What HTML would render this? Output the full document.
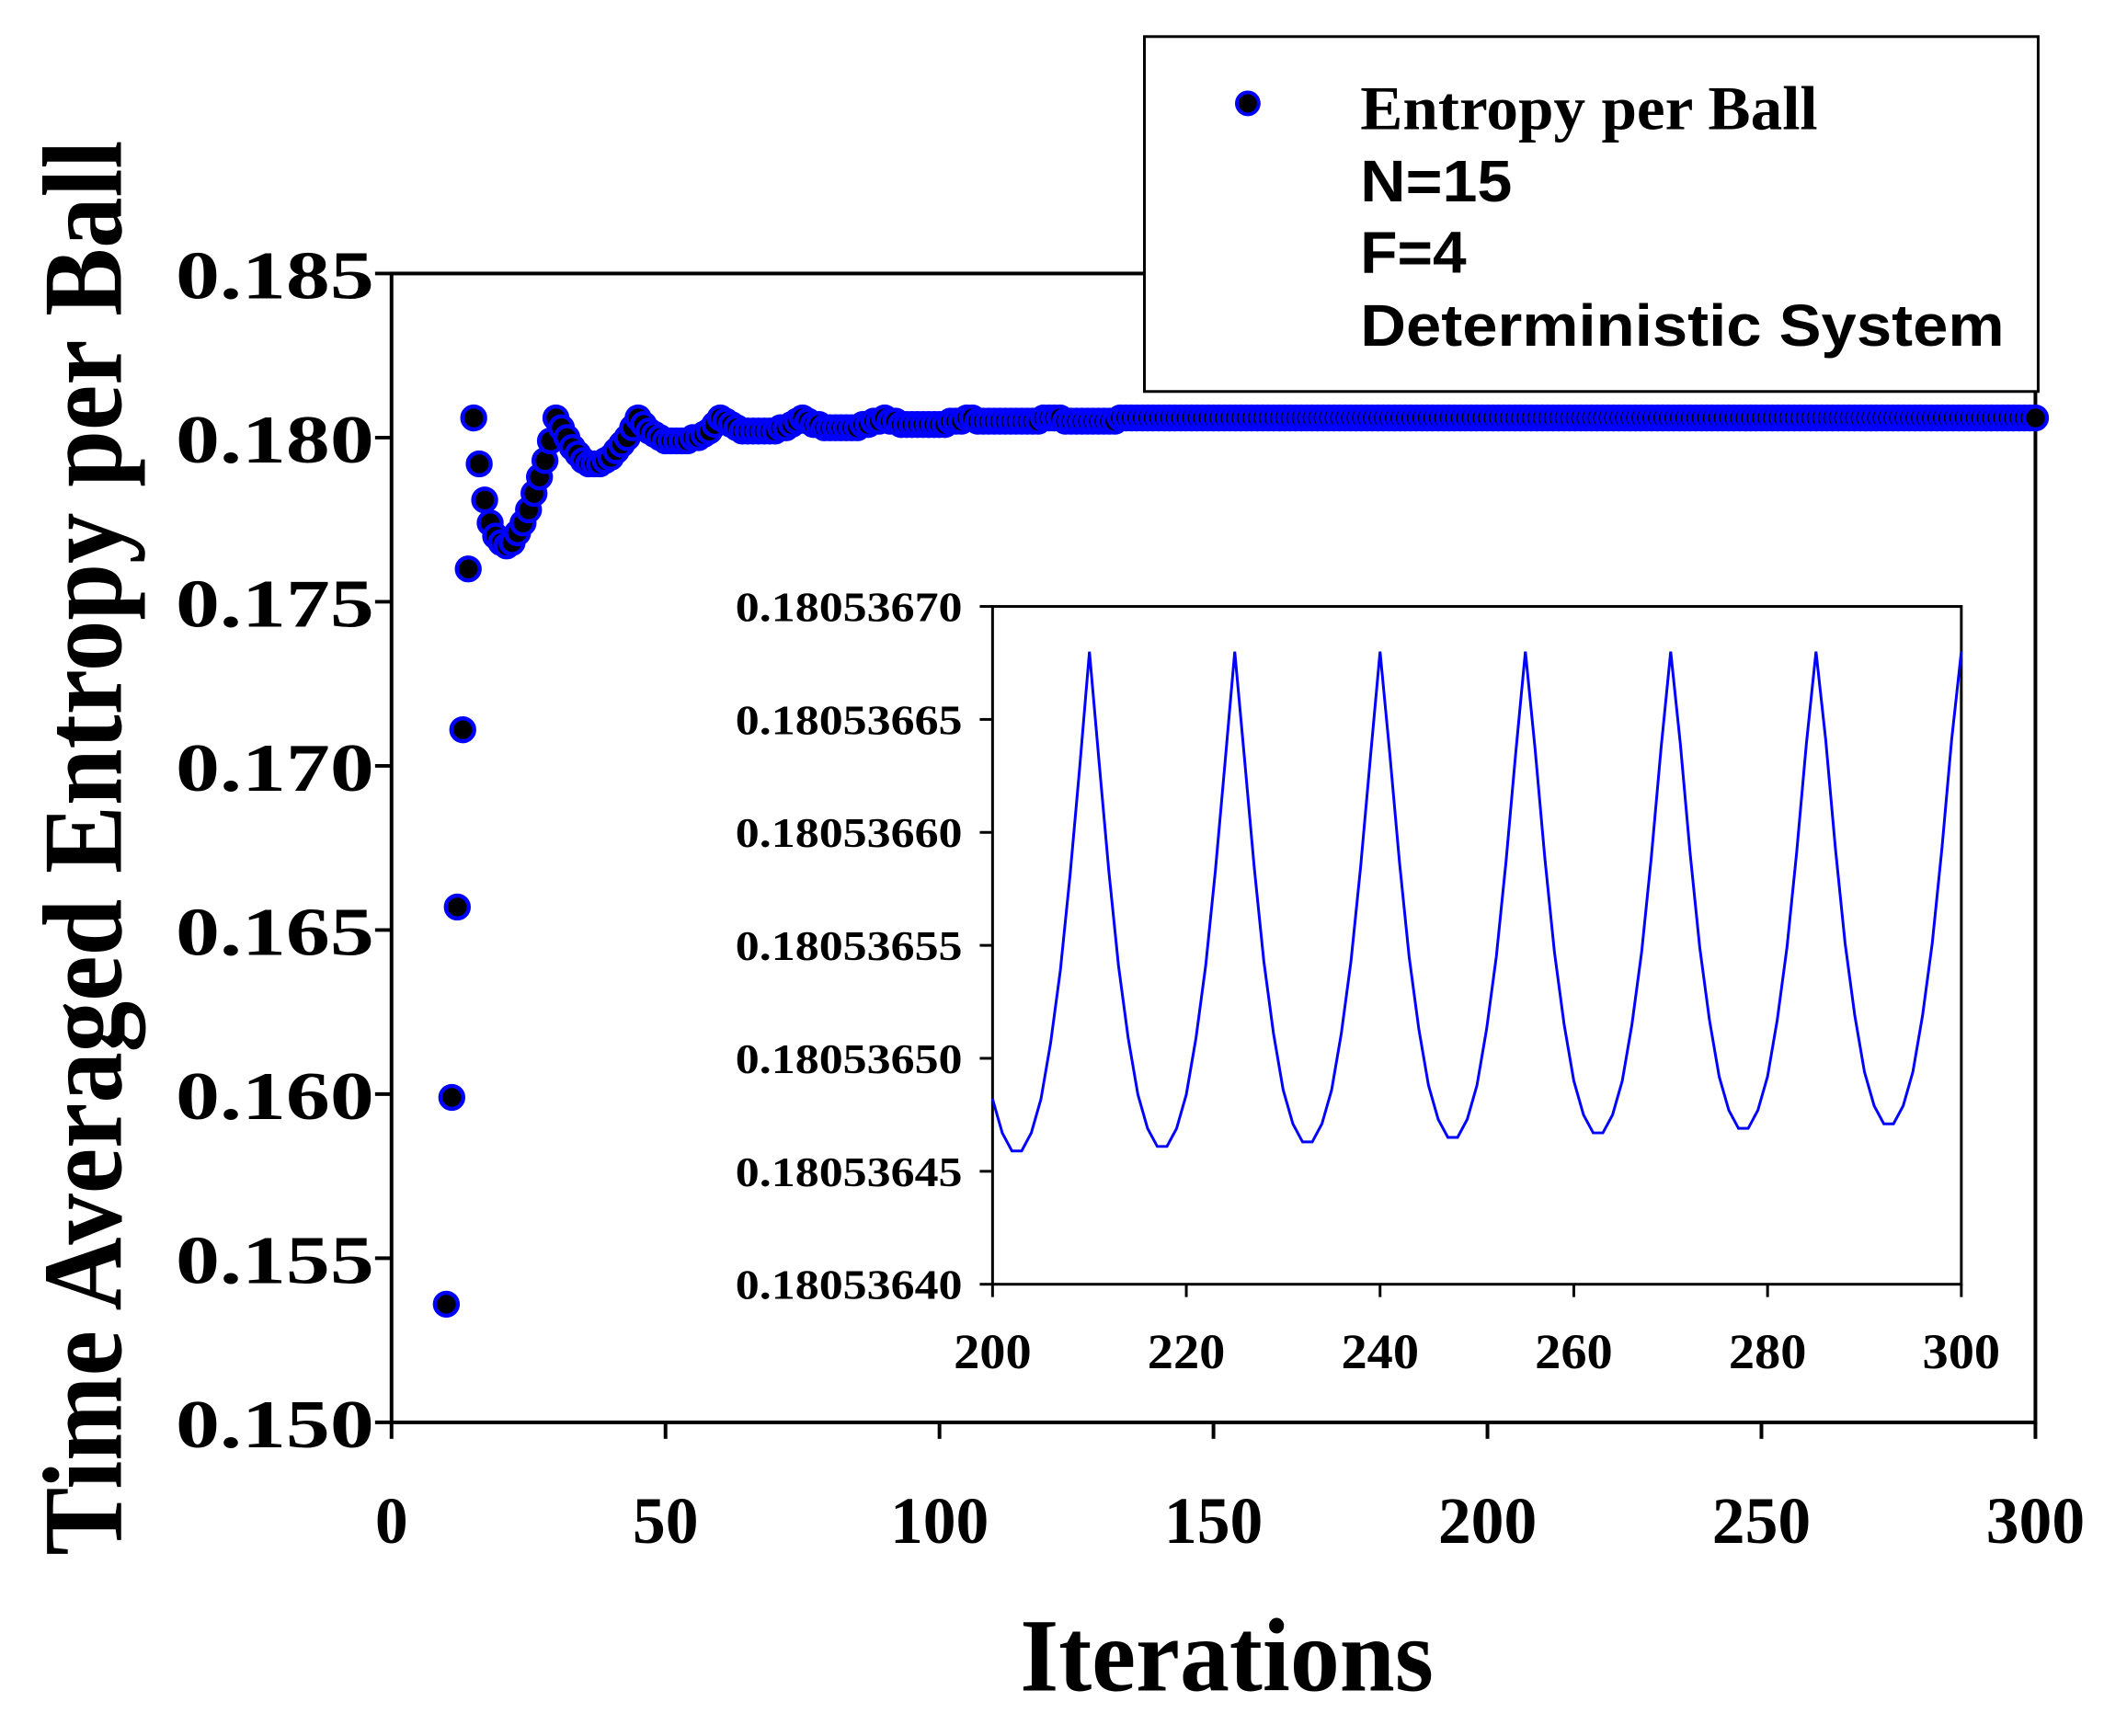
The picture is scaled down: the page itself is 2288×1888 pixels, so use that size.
<!DOCTYPE html>
<html><head><meta charset="utf-8"><style>
html,body{margin:0;padding:0;background:#fff;}
svg{display:block;}
</style></head><body>
<svg id="chart" width="2288" height="1888" viewBox="0 0 2288 1888" xmlns="http://www.w3.org/2000/svg">
<rect width="2288" height="1888" fill="#fff"/>
<g transform="scale(0.9948)">
<g id="main"></g>
<g id="inset"></g>
<g id="legend">
<rect x="1251" y="40" width="977" height="388" fill="#fff" stroke="#000" stroke-width="3"/>
<circle cx="1364" cy="113" r="12" fill="#000" stroke="#0000ff" stroke-width="4"/>
<text x="1487" y="141" font-family="Liberation Serif, serif" font-weight="bold" font-size="68" textLength="500" lengthAdjust="spacingAndGlyphs">Entropy per Ball</text>
<text x="1487" y="220" font-family="Liberation Sans, sans-serif" font-weight="bold" font-size="64" textLength="166" lengthAdjust="spacingAndGlyphs">N=15</text>
<text x="1487" y="298" font-family="Liberation Sans, sans-serif" font-weight="bold" font-size="64" textLength="116" lengthAdjust="spacingAndGlyphs">F=4</text>
<text x="1487" y="378" font-family="Liberation Sans, sans-serif" font-weight="bold" font-size="64" textLength="704" lengthAdjust="spacingAndGlyphs">Deterministic System</text>
</g>
<text x="1341" y="1848" text-anchor="middle" font-family="Liberation Serif, serif" font-weight="bold" font-size="114" textLength="452" lengthAdjust="spacingAndGlyphs">Iterations</text>
<text transform="translate(132,927) rotate(-90)" text-anchor="middle" font-family="Liberation Serif, serif" font-weight="bold" font-size="124" textLength="1547" lengthAdjust="spacingAndGlyphs">Time Averaged Entropy per Ball</text>
</g>
</svg>
<script>
// Main series (x = 10..300)
const mainStartX = 10;
const mainValues = [
0.1536,0.1599,0.1657,0.1711,0.1760,
0.1806,0.1792,0.1781,0.1774,0.1770,0.1768,0.1767,0.1768,0.1771,0.1774,0.1778,0.1783,0.1788,0.1793,0.1799,0.1806,
0.1803,0.1800,0.1797,0.1795,0.1793,0.1792,0.1792,0.1792,0.1793,0.1794,0.1796,0.1798,0.1800,0.1803,0.1806,
0.1804,0.1802,0.1801,0.1800,0.1799,0.1799,0.1799,0.1799,0.1799,0.1800,0.1800,0.1801,0.1802,0.1804,0.1806,
0.1805,0.1804,0.1803,0.1802,0.1802,0.1802,0.1802,0.1802,0.1802,0.1802,0.1803,0.1803,0.1804,0.1805,0.1806,
0.1805,0.1804,0.1804,0.1803,0.1803,0.1803,0.1803,0.1803,0.1803,0.1803,0.1804,0.1804,0.1805,0.1805,0.1806,
0.1805,0.1805,0.1804,0.1804,0.1804,0.1804,0.1804,0.1804,0.1804,0.1804,0.1804,0.1805,0.1805,0.1805,0.1806,
0.1806,0.1805,0.1805,0.1805,0.1805,0.1805,0.1805,0.1805,0.1805,0.1805,0.1805,0.1805,0.1805,0.1806,0.1806,
0.1806,0.1806,0.1805,0.1805,0.1805,0.1805,0.1805,0.1805,0.1805,0.1805,0.1805,0.1805,0.1806,0.1806,0.1806,
0.1806,0.1806,0.1806,0.1806,0.1806,0.1806,0.1806,0.1806,0.1806,0.1806,0.1806,0.1806,0.1806,0.1806,0.1806,
0.1806,0.1806,0.1806,0.1806,0.1806,0.1806,0.1806,0.1806,0.1806,0.1806,0.1806,0.1806,0.1806,0.1806,0.1806,
0.1806,0.1806,0.1806,0.1806,0.1806,0.1806,0.1806,0.1806,0.1806,0.1806,0.1806,0.1806,0.1806,0.1806,0.1806,
0.1806,0.1806,0.1806,0.1806,0.1806,0.1806,0.1806,0.1806,0.1806,0.1806,0.1806,0.1806,0.1806,0.1806,0.1806,
0.1806,0.1806,0.1806,0.1806,0.1806,0.1806,0.1806,0.1806,0.1806,0.1806,0.1806,0.1806,0.1806,0.1806,0.1806,
0.1806,0.1806,0.1806,0.1806,0.1806,0.1806,0.1806,0.1806,0.1806,0.1806,0.1806,0.1806,0.1806,0.1806,0.1806,
0.1806,0.1806,0.1806,0.1806,0.1806,0.1806,0.1806,0.1806,0.1806,0.1806,0.1806,0.1806,0.1806,0.1806,0.1806,
0.1806,0.1806,0.1806,0.1806,0.1806,0.1806,0.1806,0.1806,0.1806,0.1806,0.1806,0.1806,0.1806,0.1806,0.1806,
0.1806,0.1806,0.1806,0.1806,0.1806,0.1806,0.1806,0.1806,0.1806,0.1806,0.1806,0.1806,0.1806,0.1806,0.1806,
0.1806,0.1806,0.1806,0.1806,0.1806,0.1806,0.1806,0.1806,0.1806,0.1806,0.1806,0.1806,0.1806,0.1806,0.1806,
0.1806,0.1806,0.1806,0.1806,0.1806,0.1806,0.1806,0.1806,0.1806,0.1806,0.1806,0.1806,0.1806,0.1806,0.1806
];
const mainXTicks = [0,50,100,150,200,250,300];
const mainYTicks = [0.150,0.155,0.160,0.165,0.170,0.175,0.180,0.185];
const mainYLabels = ["0.150","0.155","0.160","0.165","0.170","0.175","0.180","0.185"];

// Inset series (x = 200..300), values as offsets above 0.180536 in units of 1e-8
const insetStartX = 200;
const insetBase = 0.180536;
const insetOffsets = [
48.2,46.7,45.9,45.9,46.7,48.2,50.7,53.9,58.1,62.9,68,
63.1,58.3,54.1,50.9,48.4,46.9,46.1,46.1,46.9,48.4,50.9,54.1,58.3,63.1,68,
63.3,58.5,54.3,51.1,48.6,47.1,46.3,46.3,47.1,48.6,51.1,54.3,58.5,63.3,68,
63.5,58.7,54.5,51.3,48.8,47.3,46.5,46.5,47.3,48.8,51.3,54.5,58.7,63.5,68,
63.7,58.9,54.7,51.5,49.0,47.5,46.7,46.7,47.5,49.0,51.5,54.7,58.9,63.7,68,
63.9,59.1,54.9,51.7,49.2,47.7,46.9,46.9,47.7,49.2,51.7,54.9,59.1,63.9,68,
64.1,59.3,55.1,51.9,49.4,47.9,47.1,47.1,47.9,49.4,51.9,55.1,59.3,64.1,68
];
const insetXTicks = [200,220,240,260,280,300];
const insetYTicks = [0.18053640,0.18053645,0.18053650,0.18053655,0.18053660,0.18053665,0.18053670];
const insetYLabels = ["0.18053640","0.18053645","0.18053650","0.18053655","0.18053660","0.18053665","0.18053670"];

const NS = "http://www.w3.org/2000/svg";
function mk(tag, attrs, parent){
  const e = document.createElementNS(NS, tag);
  for (const k in attrs) e.setAttribute(k, attrs[k]);
  parent.appendChild(e);
  return e;
}

// ---------- main plot ----------
const M = {l:428, r:2225, t:299, b:1555, x0:0, x1:300, y0:0.150, y1:0.185};
const mx = v => M.l + (v - M.x0) / (M.x1 - M.x0) * (M.r - M.l);
const my = v => M.b - (v - M.y0) / (M.y1 - M.y0) * (M.b - M.t);
const gMain = document.getElementById('main');

const frame = mk('rect', {x:M.l, y:M.t, width:M.r-M.l, height:M.b-M.t, fill:'none', stroke:'#000', 'stroke-width':4}, gMain);



mainXTicks.forEach(t => {
  const ln = mk('line', {x1:mx(t), x2:mx(t), y1:M.b, y2:M.b+18, stroke:'#000', 'stroke-width':4}, gMain);
  
  
  const tx = mk('text', {x:mx(t), y:1687, 'text-anchor':'middle', 'font-family':'Liberation Serif, serif', 'font-weight':'bold', 'font-size':72}, gMain);
  tx.textContent = String(t);
  
  
});
mainYTicks.forEach((t, i) => {
  const ln = mk('line', {x1:M.l-18, x2:M.l, y1:my(t), y2:my(t), stroke:'#000', 'stroke-width':4}, gMain);
  
  
  const tx = mk('text', {x:409, y:my(t)+27, 'text-anchor':'end', 'font-family':'Liberation Serif, serif', 'font-weight':'bold', 'font-size':74, textLength:217, lengthAdjust:'spacingAndGlyphs'}, gMain);
  tx.textContent = mainYLabels[i];
  
  
});
mainValues.forEach((v, i) => {
  const c = mk('circle', {cx:mx(mainStartX + i), cy:my(v), r:12.5, fill:'#000', stroke:'#0000ff', 'stroke-width':4.5}, gMain);
  
  
});

// ---------- inset ----------
const I = {l:1085, r:2144, t:663, b:1404, x0:200, x1:300, y0:0.18053640, y1:0.18053670};
const ix = v => I.l + (v - I.x0) / (I.x1 - I.x0) * (I.r - I.l);
const iy = v => I.b - (v - I.y0) / (I.y1 - I.y0) * (I.b - I.t);
const gIn = document.getElementById('inset');

const ibg = mk('rect', {x:I.l, y:I.t, width:I.r-I.l, height:I.b-I.t, fill:'#fff', stroke:'#000', 'stroke-width':3}, gIn);



insetXTicks.forEach(t => {
  const ln = mk('line', {x1:ix(t), x2:ix(t), y1:I.b, y2:I.b+14, stroke:'#000', 'stroke-width':3}, gIn);
  
  
  const tx = mk('text', {x:ix(t), y:1496, 'text-anchor':'middle', 'font-family':'Liberation Serif, serif', 'font-weight':'bold', 'font-size':54, textLength:85, lengthAdjust:'spacingAndGlyphs'}, gIn);
  tx.textContent = String(t);
  
  
});
insetYTicks.forEach((t, i) => {
  const ln = mk('line', {x1:I.l-14, x2:I.l, y1:iy(t), y2:iy(t), stroke:'#000', 'stroke-width':3}, gIn);
  
  
  const tx = mk('text', {x:1052, y:iy(t)+16, 'text-anchor':'end', 'font-family':'Liberation Serif, serif', 'font-weight':'bold', 'font-size':46, textLength:248, lengthAdjust:'spacingAndGlyphs'}, gIn);
  tx.textContent = insetYLabels[i];
  
  
});
const pts = insetOffsets.map((o, i) => ix(insetStartX + i).toFixed(2) + ',' + iy(insetBase + o * 1e-8).toFixed(2)).join(' ');
const line = mk('polyline', {points:pts, fill:'none', stroke:'#0000ff', 'stroke-width':3, 'stroke-linejoin':'miter'}, gIn);


</script>
</body></html>
